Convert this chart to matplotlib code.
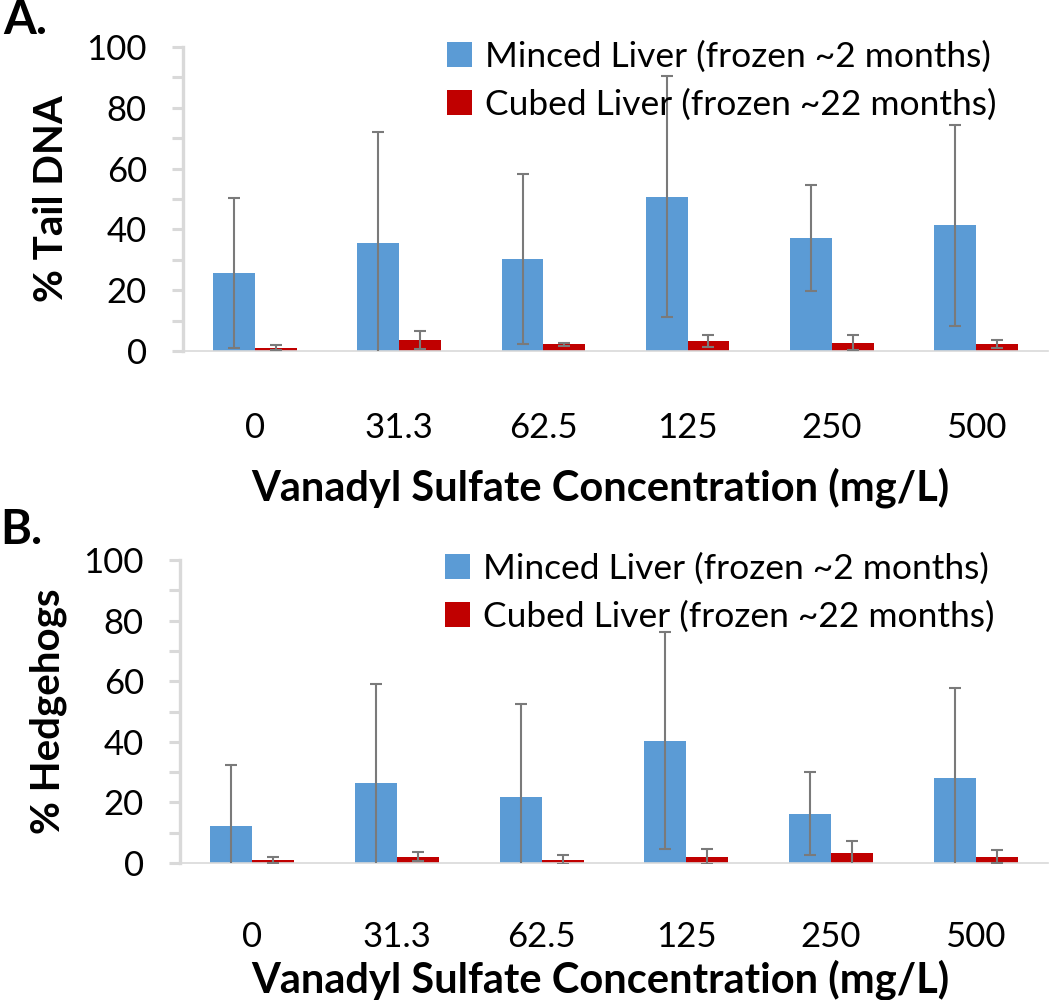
import matplotlib
matplotlib.use("Agg")
import matplotlib.pyplot as plt
from matplotlib.ticker import MultipleLocator
import numpy as np

plt.rcParams['font.family'] = ['Lato', 'DejaVu Sans']

concs = ["0", "31.3", "62.5", "125", "250", "500"]
labels = ["Minced Liver (frozen ~2 months)", "Cubed Liver (frozen ~22 months)"]

# panel A: % tail DNA
tail_minced = [25.7, 35.5, 30.2, 50.8, 37.1, 41.3]
tail_minced_err = [24.6, 36.5, 28.0, 39.5, 17.5, 33.0]
tail_cubed = [1.1, 3.7, 2.2, 3.2, 2.7, 2.2]
tail_cubed_err = [0.9, 3.0, 0.5, 2.0, 2.4, 1.3]

# panel B: % hedgehogs
hedge_minced = [12.2, 26.5, 21.8, 40.4, 16.3, 28.1]
hedge_minced_err = [20.0, 32.7, 30.6, 35.7, 13.6, 29.5]
hedge_cubed = [1.0, 2.1, 1.1, 2.1, 3.2, 2.1]
hedge_cubed_err = [0.9, 1.4, 1.4, 2.5, 4.1, 2.1]

blue = "#5B9BD5"
red = "#C00000"
grey = "#D9D9D9"
W, H = 1050, 1000

fig = plt.figure(figsize=(10.5, 10), dpi=100)


def panel(box, minced, minced_err, cubed, cubed_err, ylabel, letter, letter_xy,
          tickpad, xlab_y, leg_y):
    l, t, r, b = box
    ax = fig.add_axes([l / W, 1 - b / H, (r - l) / W, (b - t) / H])
    x = np.arange(len(concs))
    w = 0.29
    ax.bar(x - w / 2, minced, w, color=blue, label=labels[0], zorder=2)
    ax.bar(x + w / 2, cubed, w, color=red, label=labels[1], zorder=2)
    ax.errorbar(x - w / 2, minced, yerr=minced_err, fmt='none', ecolor='#7a7a7a',
                elinewidth=1.5, capsize=4.5, capthick=1.5, zorder=3)
    ax.errorbar(x + w / 2, cubed, yerr=cubed_err, fmt='none', ecolor='#7a7a7a',
                elinewidth=1.5, capsize=4.5, capthick=1.5, zorder=3)
    ax.set_xlim(-0.5, len(concs) - 0.5)
    ax.set_ylim(0, 100)
    ax.yaxis.set_major_locator(MultipleLocator(20))
    ax.yaxis.set_minor_locator(MultipleLocator(10))
    ax.set_xticks(x)
    ax.set_xticklabels(concs)
    ax.tick_params(axis='x', length=0, labelsize=25, pad=tickpad)
    ax.tick_params(axis='y', which='both', length=8, width=2.2, color=grey,
                   labelsize=25, pad=18)
    for s in ['top', 'right']:
        ax.spines[s].set_visible(False)
    ax.spines['left'].set_color(grey)
    ax.spines['left'].set_linewidth(2.4)
    ax.spines['bottom'].set_color(grey)
    ax.spines['bottom'].set_linewidth(1.2)
    ax.set_xlabel("Vanadyl Sulfate Concentration (mg/L)", fontsize=30,
                  fontweight='bold')
    ax.xaxis.set_label_coords((600 - l) / (r - l), (b - xlab_y) / (b - t))
    ax.set_ylabel(ylabel, fontsize=29, fontweight='bold', labelpad=12)
    ax.legend(loc='upper left', bbox_to_anchor=(0.305, leg_y), frameon=False,
              fontsize=25.5, handlelength=0.72, handleheight=0.72,
              handletextpad=0.35, labelspacing=0.45, borderpad=0, borderaxespad=0)
    fig.text(letter_xy[0] / W, 1 - letter_xy[1] / H, letter, fontsize=34,
             fontweight='bold', ha='left', va='baseline')
    return ax


panel((183, 47, 1048, 351), tail_minced, tail_minced_err, tail_cubed,
      tail_cubed_err, "% Tail DNA", "A.", (3, 34), 44, 467, 1.022)
panel((180, 560, 1048, 863), hedge_minced, hedge_minced_err, hedge_cubed,
      hedge_cubed_err, "% Hedgehogs", "B.", (0, 544), 42, 959, 1.025)

fig.savefig("out.png", dpi=100)
